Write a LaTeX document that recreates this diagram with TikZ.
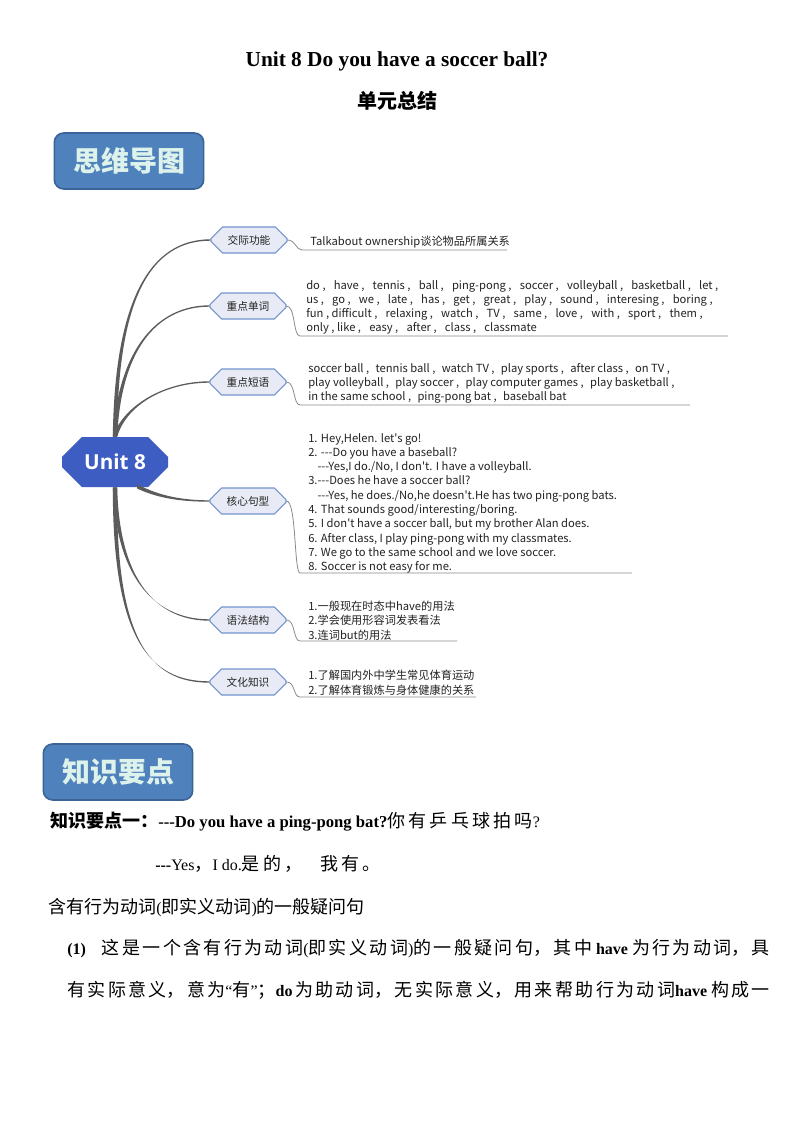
\documentclass[tikz,border=0pt]{standalone}
\usepackage{fontspec}
\setmainfont{Liberation Serif}
\newfontfamily\cjk{Noto Sans CJK SC}
\newfontfamily\cjkw[LetterSpace=18]{Noto Sans CJK SC}
\newfontfamily\mm{Noto Sans CJK SC}
\newfontfamily\osans{Open Sans}
\usetikzlibrary{shapes.misc,calc}
\XeTeXlinebreaklocale "zh"
\XeTeXlinebreakskip=0pt plus 3pt
\definecolor{hdrfill}{HTML}{4F81BD}
\definecolor{hdrdraw}{HTML}{3A6496}
\definecolor{hdrtext}{HTML}{DDF2EA}
\definecolor{rootfill}{HTML}{3D5DC2}
\definecolor{brfill}{HTML}{E8EBF5}
\definecolor{brdraw}{HTML}{7394CC}
\definecolor{conncol}{HTML}{5C5C5C}
\definecolor{leafcol}{HTML}{8A8A8A}
\definecolor{txtcol}{HTML}{222222}
\newcommand\ddd{-{}-{}-}
\newcommand\taper[5]{%
  \fill[conncol] ($#1+(-#5,0)$) .. controls ($#2+(-#5*0.6,0)$) and ($#3+(0,-0.7)$) .. ($#4+(0,-0.7)$)
   -- ($#4+(0,0.7)$) .. controls ($#3+(0,0.7)$) and ($#2+(#5*0.6,0)$) .. ($#1+(#5,0)$) -- cycle;}
\newcommand\tapery[5]{%
  \fill[conncol] ($#1+(0,-#5)$) .. controls ($#2+(0,-#5*0.6)$) and ($#3+(0,-0.7)$) .. ($#4+(0,-0.7)$)
   -- ($#4+(0,0.7)$) .. controls ($#3+(0,0.7)$) and ($#2+(0,#5*0.6)$) .. ($#1+(0,#5)$) -- cycle;}
\tikzset{
  hdrbox/.style={draw=hdrdraw, line width=1.2pt, fill=hdrfill, rounded corners=7pt,
    minimum width=112pt, minimum height=42pt, inner sep=0pt,
    font=\cjk\bfseries\fontsize{21}{24}\selectfont, text=hdrtext},
  rootbox/.style={chamfered rectangle, chamfered rectangle xsep=9pt, chamfered rectangle ysep=9pt,
    fill=rootfill, draw=none, minimum width=79.5pt, minimum height=37.5pt, inner sep=0pt,
    font=\osans\bfseries\fontsize{15.5}{17}\selectfont, text=white},
  brbox/.style={chamfered rectangle, chamfered rectangle xsep=5pt, chamfered rectangle ysep=5pt,
    fill=brfill, draw=brdraw, line width=0.8pt, minimum width=57pt, minimum height=19.5pt, inner sep=0pt,
    font=\mm\fontsize{8}{10}\selectfont, text=txtcol},
  leaf/.style={anchor=north west, align=left, inner sep=0pt, text=txtcol,
    font=\mm\fontsize{8.4}{10.7}\selectfont},
  leafline/.style={draw=leafcol, line width=0.6pt},
  body/.style={anchor=west, inner sep=0pt, font=\fontsize{12}{14}\selectfont},
}
\newcommand\C[1]{{\cjk\fontsize{13.5}{15}\selectfont #1}}
\newcommand\CW[1]{{\cjkw\fontsize{13.5}{15}\selectfont #1}}
\newcommand\sep{ ,\ \ \ \kern0.5pt}
\newcommand\sepb{ ,\ \ \kern1pt}
\begin{document}
\begin{tikzpicture}[x=0.75pt,y=-0.75pt]
\fill[white] (0,0) rectangle (794,1123);
\useasboundingbox (0,0) rectangle (794,1123);

% titles
\node[inner sep=0pt, font=\bfseries\fontsize{16}{18}\selectfont] (title) at (397,61) {Unit 8 Do you have a soccer ball?};
\node[inner sep=0pt, font=\cjk\bfseries\fontsize{15}{17}\selectfont] (subtitle) at (397,101) {单元总结};

% header boxes
\node[hdrbox] (hdr1) at (129,161) {思维导图};
\node[hdrbox] (hdr2) at (118,772) {知识要点};

% mind map nodes
\node[rootbox] (u8) at (115,462) {Unit 8};
\node[brbox] (b1) at (249,240) {交际功能};
\node[brbox] (b2) at (248,306) {重点单词};
\node[brbox] (b3) at (248,382) {重点短语};
\node[brbox] (b4) at (248,501) {核心句型};
\node[brbox] (b5) at (248,620) {语法结构};
\node[brbox] (b6) at (248,682) {文化知识};

% root connectors
\taper{(u8.north)}{(116,300)}{(150,240)}{(b1.west)}{2.2}
\taper{(u8.north)}{(120,345)}{(160,306)}{(b2.west)}{2.2}
\taper{(u8.north)}{(125,405)}{(165,382)}{(b3.west)}{2.2}
\tapery{($(u8.south)+(22,-1)$)}{(160,498)}{(185,501)}{(b4.west)}{2.2}
\taper{(u8.south)}{(118,585)}{(160,620)}{(b5.west)}{2.2}
\taper{(u8.south)}{(114,640)}{(150,682)}{(b6.west)}{2.2}

% leaf lines
\coordinate (s1) at (302,250); \coordinate (e1) at (507,250);
\coordinate (s2) at (300,336); \coordinate (e2) at (728,336);
\coordinate (s3) at (300,405); \coordinate (e3) at (690,405);
\coordinate (s4) at (300,573); \coordinate (e4) at (632,573);
\coordinate (s5) at (300,641); \coordinate (e5) at (457,641);
\coordinate (s6) at (300,697); \coordinate (e6) at (476,697);
\draw[leafline] (b1.east) .. controls +(8,0) and +(-6,0) .. (s1) -- (e1);
\draw[leafline] (b2.east) .. controls +(9,0) and +(-7,0) .. (s2) -- (e2);
\draw[leafline] (b3.east) .. controls +(9,0) and +(-7,0) .. (s3) -- (e3);
\draw[leafline] (b4.east) .. controls +(10,0) and +(-6,0) .. (s4) -- (e4);
\draw[leafline] (b5.east) .. controls +(9,0) and +(-7,0) .. (s5) -- (e5);
\draw[leafline] (b6.east) .. controls +(9,0) and +(-7,0) .. (s6) -- (e6);

% leaf texts
\node[leaf, anchor=west] (t1) at (310,242) {Talkabout ownership谈论物品所属关系};
\node[leaf] (t2) at (306,280) {do\sep have\sep tennis\sep ball\sep ping-pong\sep soccer\sep volleyball\sep basketball\sep let ,\\
us\sep go\sep we\sep late\sep has\sep get\sep great\sep play\sep sound\sep interesing\sep boring ,\\
fun , difficult\sep relaxing\sep watch\sep TV\sep same\sep love\sep with\sep sport\sep them ,\\
only , like\sep easy\sep after\sep class\sep classmate};
\node[leaf] (t3) at (308,363) {soccer ball\sepb tennis ball\sepb watch TV\sepb play sports\sepb after class\sepb on TV ,\\
play volleyball\sepb play soccer\sepb play computer games\sepb play basketball ,\\
in the same school\sepb ping-pong bat\sepb baseball bat};
\node[leaf] (t4) at (308,433) {1. Hey,Helen. let's go!\\
2. \ddd Do you have a baseball?\\
\hspace*{7pt}\ddd Yes,I do./No, I don't. I have a volleyball.\\
3.\ddd Does he have a soccer ball?\\
\hspace*{7pt}\ddd Yes, he does./No,he doesn't.He has two ping-pong bats.\\
4. That sounds good/interesting/boring.\\
5. I don't have a soccer ball, but my brother Alan does.\\
6. After class, I play ping-pong with my classmates.\\
7. We go to the same school and we love soccer.\\
8. Soccer is not easy for me.};
\node[leaf] (t5) at (308,601) {1.一般现在时态中have的用法\\
2.学会使用形容词发表看法\\
3.连词but的用法};
\node[leaf] (t6) at (308,670) {1.了解国内外中学生常见体育运动\\
2.了解体育锻炼与身体健康的关系};

% body text
\node[body] (p1) at (50,822) {{\cjk\bfseries\fontsize{13.5}{15}\selectfont 知识要点一：}{\bfseries\fontsize{12.5}{14}\selectfont\ddd Do you have a ping-pong bat?}\CW{你有乒乓球拍吗}?};
\node[body] (p2) at (155,864) {\textbf{\ddd}Yes\CW{，}I do.\CW{是的，\quad 我有。}};
\node[body] (p3) at (48,908) {\C{含有行为动词}(\C{即实义动词})\C{的一般疑问句}};
\node[body, text width=527pt, align=justify] (p4) at (67,949) {\noindent\parfillskip=0pt \spaceskip=3pt\relax
\textbf{(1)}\hspace{12pt}\C{这是一个含有行为动词}(\C{即实义动词})\C{的一般疑问句，其中} \textbf{have} \C{为行为动词，具}\par};
\node[body, text width=527pt, align=justify] (p5) at (67,990) {\noindent\parfillskip=0pt \spaceskip=3pt\relax
\C{有实际意义，意为}“\C{有}”\C{；}\textbf{do}\,\C{为助动词，无实际意义，用来帮助行为动词}\textbf{have} \C{构成一}\par};
\end{tikzpicture}
\end{document}
